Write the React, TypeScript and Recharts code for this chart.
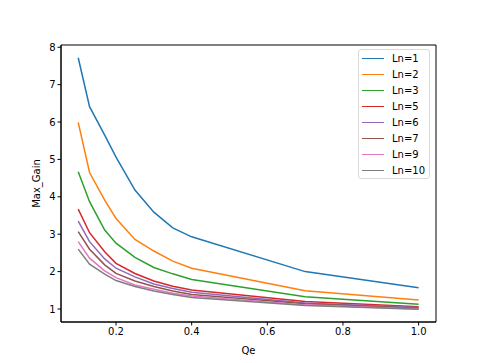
import React from "react";
import {
  LineChart,
  Line,
  XAxis,
  YAxis,
  Legend,
  ReferenceArea,
} from "recharts";

// Qe sample points
const qe = [0.1, 0.13, 0.17, 0.2, 0.25, 0.3, 0.35, 0.4, 0.7, 1.0];

// Max gain per Ln
const ln1 = [7.72, 6.41, 5.65, 5.06, 4.18, 3.59, 3.17, 2.93, 2.0, 1.57];
const ln2 = [5.99, 4.65, 3.91, 3.42, 2.86, 2.55, 2.28, 2.09, 1.49, 1.24];
const ln3 = [4.67, 3.87, 3.11, 2.76, 2.38, 2.11, 1.94, 1.79, 1.33, 1.13];
const ln5 = [3.67, 3.04, 2.53, 2.22, 1.95, 1.75, 1.61, 1.51, 1.2, 1.06];
const ln6 = [3.35, 2.8, 2.34, 2.09, 1.86, 1.67, 1.55, 1.45, 1.16, 1.04];
const ln7 = [3.07, 2.6, 2.18, 1.95, 1.75, 1.6, 1.48, 1.39, 1.14, 1.02];
const ln9 = [2.8, 2.36, 2.02, 1.84, 1.64, 1.53, 1.42, 1.35, 1.11, 1.0];
const ln10 = [2.6, 2.2, 1.93, 1.76, 1.6, 1.48, 1.39, 1.31, 1.09, 0.99];

const seriesNames = ["Ln=1", "Ln=2", "Ln=3", "Ln=5", "Ln=6", "Ln=7", "Ln=9", "Ln=10"];
const seriesValues = [ln1, ln2, ln3, ln5, ln6, ln7, ln9, ln10];
const colors = ["#1f77b4", "#ff7f0e", "#2ca02c", "#d62728", "#9467bd", "#8c564b", "#e377c2", "#7f7f7f"];

const xTicks = [0.2, 0.4, 0.6, 0.8, 1.0];
const yTicks = [1, 2, 3, 4, 5, 6, 7, 8];

const X_DOMAIN: [number, number] = [0.0545, 1.046];
const Y_DOMAIN: [number, number] = [0.652, 8.06];

const data = qe.map((x, i) => {
  const row: Record<string, number> = { x };
  seriesNames.forEach((name, s) => {
    row[name] = seriesValues[s][i];
  });
  return row;
});

const FONT = "'DejaVu Sans', sans-serif";

const renderLegend = () => (
  <div
    style={{
      width: 72,
      height: 130,
      boxSizing: "border-box",
      border: "1px solid #d9d9d9",
      borderRadius: 3,
      background: "rgba(255,255,255,0.8)",
      fontFamily: FONT,
      fontSize: 10,
      color: "#000",
    }}
  >
    {seriesNames.map((name, i) => (
      <div key={name} style={{ height: 16, display: "flex", alignItems: "center" }}>
        <div style={{ width: 22, height: 0, borderTop: `1.5px solid ${colors[i]}`, marginLeft: 3 }} />
        <span style={{ marginLeft: 8 }}>{name}</span>
      </div>
    ))}
  </div>
);

export default function App() {
  return (
    <div style={{ position: "absolute", left: 0, top: 0, width: 484, height: 363, background: "#fff" }}>
      <LineChart
        width={484}
        height={363}
        data={data}
        margin={{ top: 45, right: 48, bottom: 0, left: 0 }}
        style={{ fontFamily: FONT }}
      >
        <XAxis
          dataKey="x"
          type="number"
          domain={X_DOMAIN}
          allowDataOverflow
          ticks={xTicks}
          tickFormatter={(v: number) => v.toFixed(1)}
          height={41}
          stroke="#000"
          tickSize={3.5}
          tick={{ fill: "#000", fontSize: 10 }}
          label={{ value: "Qe", position: "insideBottom", offset: 9, fill: "#000", fontSize: 10 }}
        />
        <YAxis
          type="number"
          domain={Y_DOMAIN}
          allowDataOverflow
          ticks={yTicks}
          width={61}
          stroke="#000"
          tickSize={3.5}
          tick={{ fill: "#000", fontSize: 10 }}
          label={{
            value: "Max_Gain",
            angle: -90,
            position: "insideLeft",
            offset: 36,
            fill: "#000",
            fontSize: 10,
            style: { textAnchor: "middle" },
          }}
        />
        {/* axes frame (top/right spines) */}
        <ReferenceArea
          x1={X_DOMAIN[0]}
          x2={X_DOMAIN[1]}
          y1={Y_DOMAIN[0]}
          y2={Y_DOMAIN[1]}
          fill="none"
          fillOpacity={0}
          stroke="#000"
          strokeWidth={1}
          strokeOpacity={1}
          ifOverflow="visible"
        />
        <Legend
          layout="vertical"
          align="center"
          verticalAlign="middle"
          content={renderLegend}
          wrapperStyle={{ left: 358, top: 49, width: 72, height: 130 }}
        />
        {seriesNames.map((name, i) => (
          <Line
            key={name}
            dataKey={name}
            type="linear"
            stroke={colors[i]}
            strokeWidth={1.5}
            dot={false}
            isAnimationActive={false}
          />
        ))}
      </LineChart>
    </div>
  );
}
